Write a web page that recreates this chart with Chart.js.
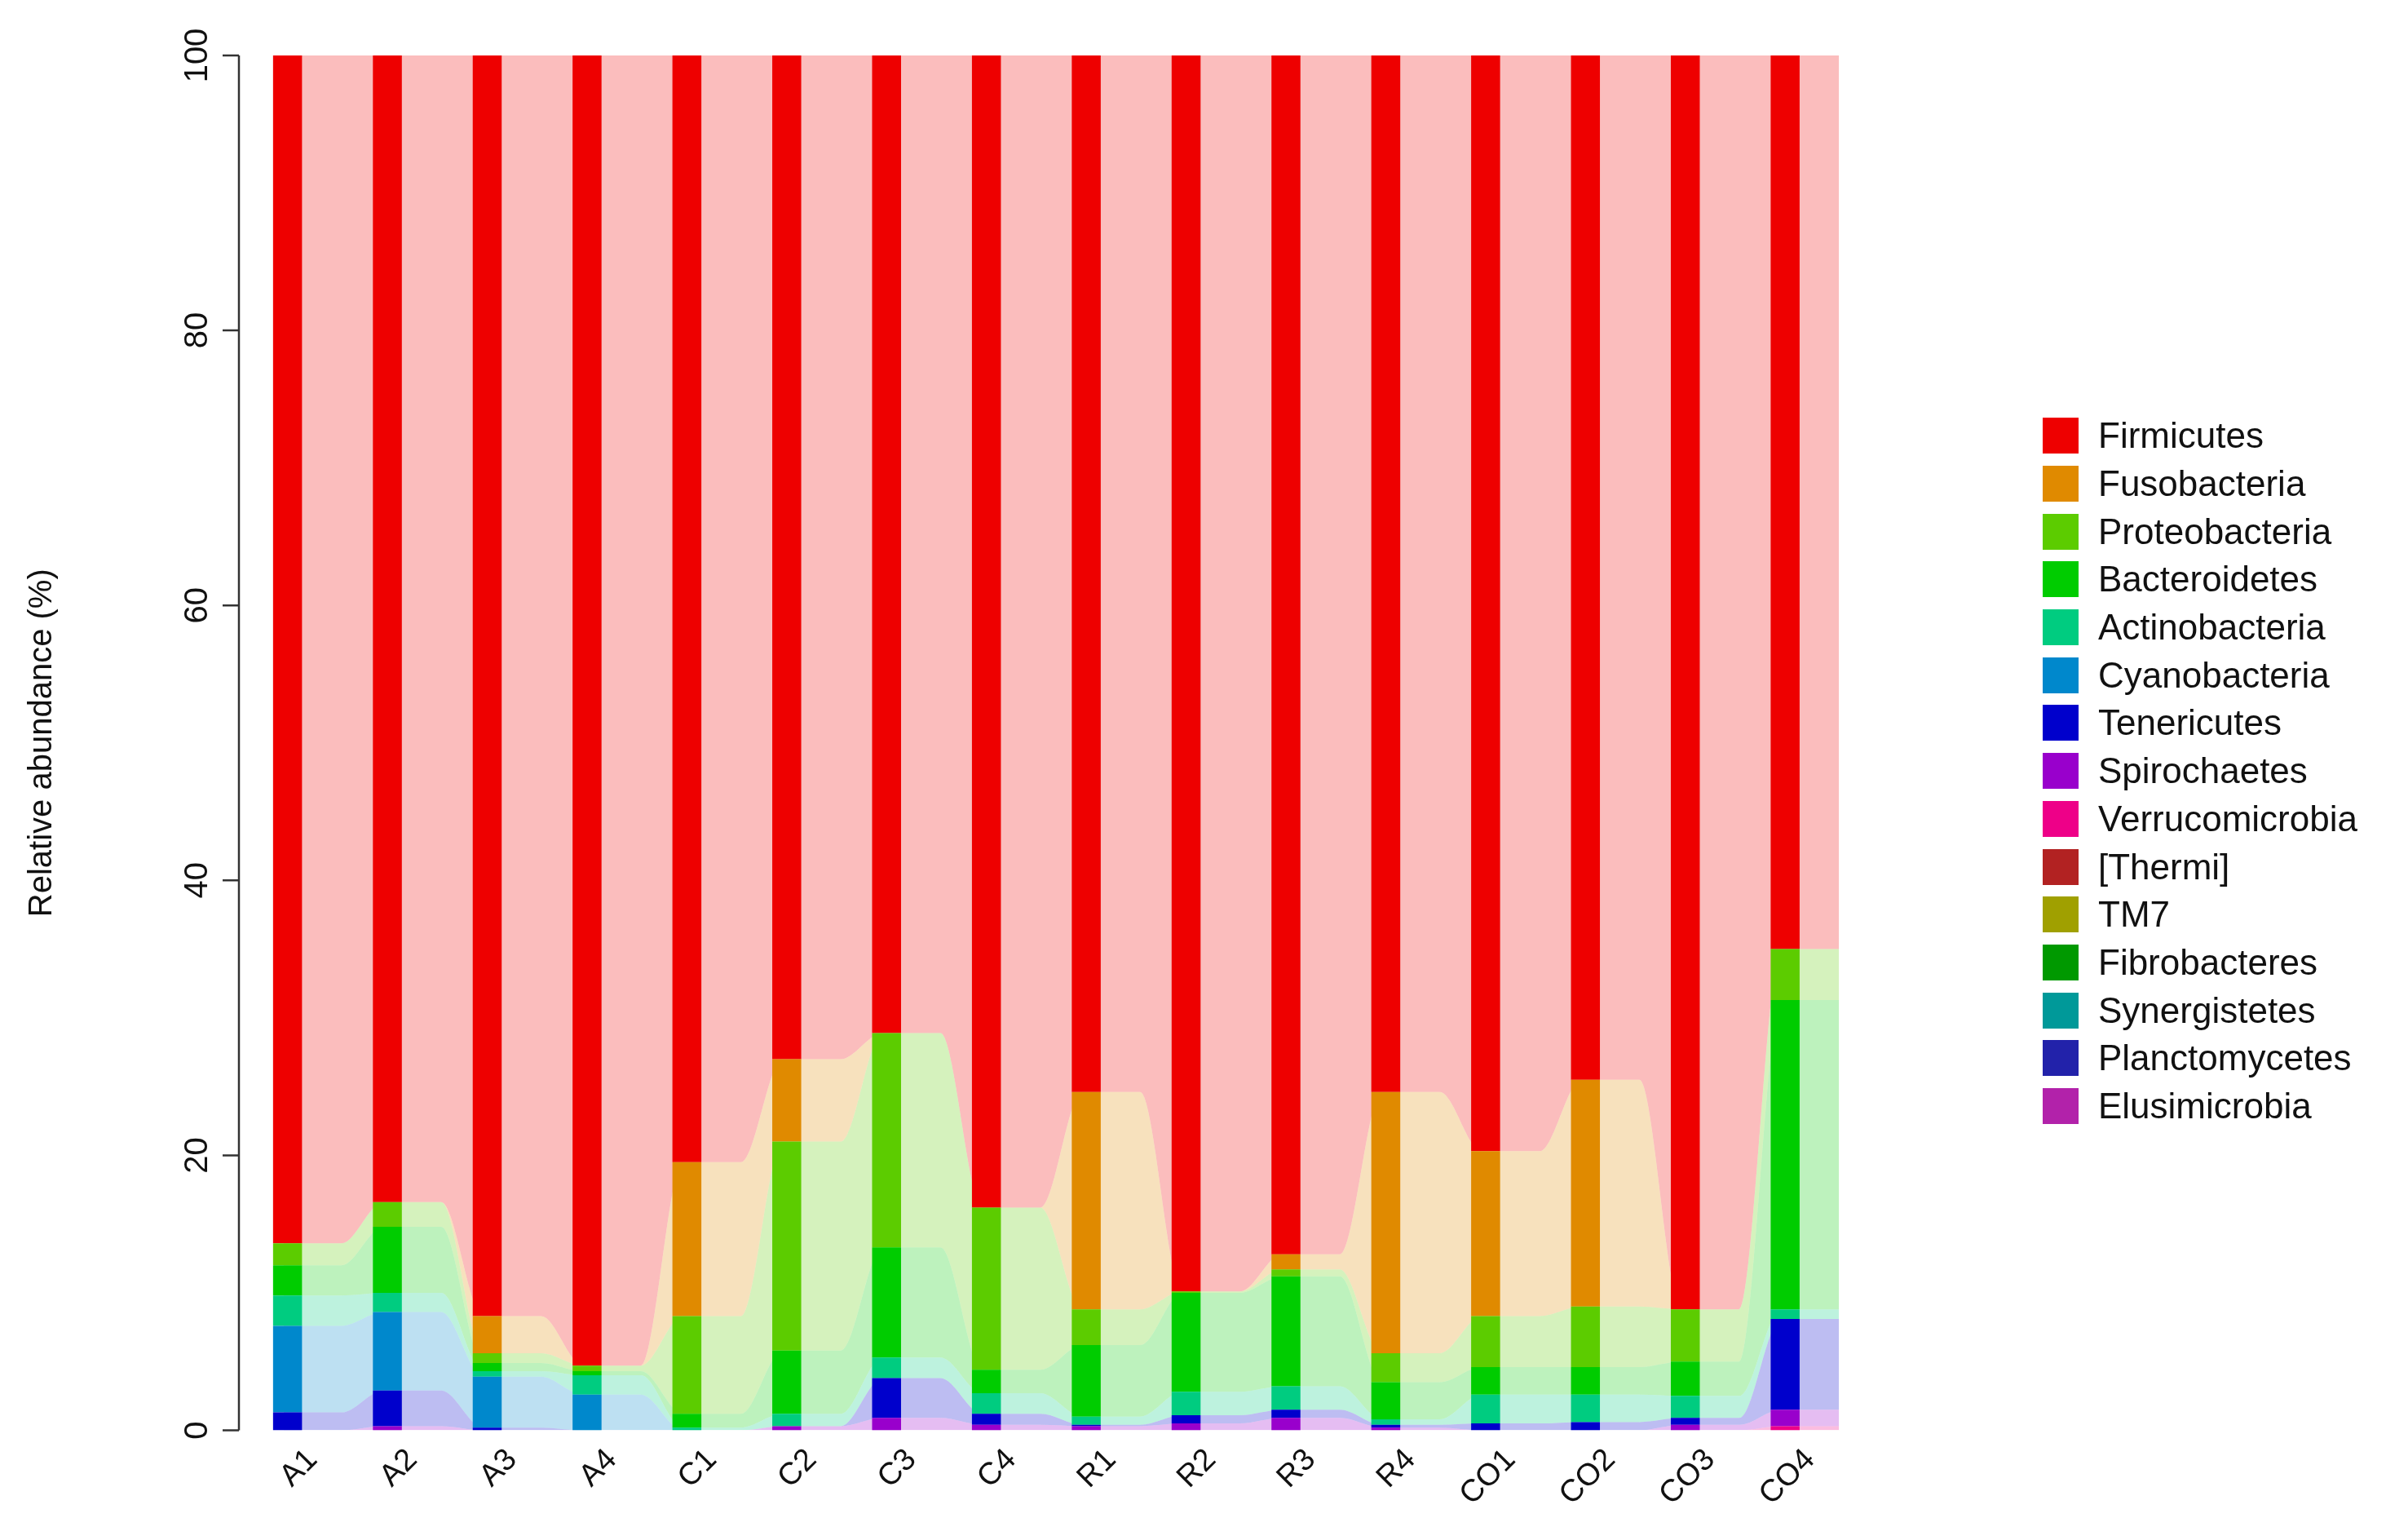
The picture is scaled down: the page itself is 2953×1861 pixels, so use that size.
<!DOCTYPE html>
<html>
<head>
<meta charset="utf-8">
<script src="https://cdn.jsdelivr.net/npm/chart.js@4"></script>
<style>
  body { margin: 0; background: #fff; }
  #wrap { position: relative; width: 2953px; height: 1861px; }
  #legend { position: absolute; left: 2505px; top: 505px; font-family: "Liberation Sans", Arial, sans-serif; font-size: 44px; color: #111; }
  #legend div { height: 58.7px; display: flex; align-items: center; }
  #legend span.sw { display: inline-block; width: 44px; height: 44px; margin-right: 24px; }
</style>
</head>
<body>
<div id="wrap">
  <canvas id="chart" width="2953" height="1861"></canvas>
  <div id="legend"></div>
</div>
<script>
const samples = ["A1","A2","A3","A4","C1","C2","C3","C4","R1","R2","R3","R4","CO1","CO2","CO3","CO4"];
const yTicks = [0, 20, 40, 60, 80, 100];

// legend order (top to bottom); stacking goes the other way
const phyla = ["Firmicutes","Fusobacteria","Proteobacteria","Bacteroidetes","Actinobacteria","Cyanobacteria",
  "Tenericutes","Spirochaetes","Verrucomicrobia","[Thermi]","TM7","Fibrobacteres","Synergistetes","Planctomycetes","Elusimicrobia"];
const colors = ["#ee0000","#e08a00","#5ccc00","#00cc00","#00cc80","#0088cc",
  "#0000cc","#9900cc","#ee0088","#b22222","#a0a000","#009900","#009999","#2222aa","#b222aa"];

const firmicutes      = [86.4,83.4,91.7,95.3,80.5,73.0,71.1,83.8,75.4,89.9,87.2,75.4,79.7,74.5,91.2,65.0];
const fusobacteria    = [0,0,2.7,0,11.2,6.0,0,0,15.8,0,1.1,19.0,12.0,16.5,0,0];
const proteobacteria  = [1.6,1.8,0.7,0.4,7.1,15.2,15.6,11.8,2.6,0.1,0.5,2.1,3.7,4.4,3.8,3.7];
const bacteroidetes   = [2.2,4.8,0.6,0.3,1.0,4.6,8.0,1.7,5.2,7.2,8.0,2.7,2.0,2.0,2.5,22.5];
const actinobacteria  = [2.2,1.4,0.4,1.4,0.2,0.9,1.5,1.5,0.6,1.7,1.7,0.4,2.1,2.0,1.6,0.7];
const cyanobacteria   = [6.3,5.7,3.7,2.6,0,0,0,0,0,0,0,0,0,0,0,0];
const tenericutes     = [1.3,2.6,0.2,0,0,0,2.9,0.8,0.1,0.6,0.6,0.2,0.5,0.6,0.5,6.6];
const spirochaetes    = [0,0.3,0,0,0,0.3,0.9,0.4,0.3,0.5,0.9,0.2,0,0,0.4,1.2];
const verrucomicrobia = [0,0,0,0,0,0,0,0,0,0,0,0,0,0,0,0.3];
const thermi          = [0,0,0,0,0,0,0,0,0,0,0,0,0,0,0,0];
const tm7             = [0,0,0,0,0,0,0,0,0,0,0,0,0,0,0,0];
const fibrobacteres   = [0,0,0,0,0,0,0,0,0,0,0,0,0,0,0,0];
const synergistetes   = [0,0,0,0,0,0,0,0,0,0,0,0,0,0,0,0];
const planctomycetes  = [0,0,0,0,0,0,0,0,0,0,0,0,0,0,0,0];
const elusimicrobia   = [0,0,0,0,0,0,0,0,0,0,0,0,0,0,0,0];

const values = [firmicutes,fusobacteria,proteobacteria,bacteroidetes,actinobacteria,cyanobacteria,
  tenericutes,spirochaetes,verrucomicrobia,thermi,tm7,fibrobacteres,synergistetes,planctomycetes,elusimicrobia];

const HALF = 0.29; // half bar width in category units

function light(hex) {
  const r = parseInt(hex.slice(1,3),16), g = parseInt(hex.slice(3,5),16), b = parseInt(hex.slice(5,7),16);
  return `rgba(${r},${g},${b},0.26)`;
}

// bottom-up stacking order
const order = phyla.map((_, i) => i).reverse();

const barSets = order.map(i => ({
  type: "bar", label: phyla[i], data: values[i], backgroundColor: colors[i],
  stack: "bars", xAxisID: "x", barPercentage: HALF * 2, categoryPercentage: 1, borderWidth: 0
}));

const flowSets = order.map((i, k) => ({
  type: "line", label: phyla[i] + " flow",
  data: values[i].flatMap((v, j) => [{ x: j - HALF, y: v }, { x: j + HALF, y: v }]),
  xAxisID: "xf", stack: "flow", borderWidth: 0, pointRadius: 0,
  backgroundColor: light(colors[i]), fill: k === 0 ? "origin" : "-1",
  cubicInterpolationMode: "monotone"
}));

// y tick labels rotated like R's plot, axis title
const yAxisPlugin = {
  id: "yAxisPlugin",
  afterDraw(chart) {
    const ctx = chart.ctx, y = chart.scales.y;
    const ax = 293;
    ctx.save();
    ctx.strokeStyle = "#333"; ctx.lineWidth = 2.5;
    ctx.beginPath();
    ctx.moveTo(ax, y.getPixelForValue(0)); ctx.lineTo(ax, y.getPixelForValue(100));
    yTicks.forEach(t => {
      const p = y.getPixelForValue(t);
      ctx.moveTo(ax, p); ctx.lineTo(ax - 20, p);
    });
    ctx.stroke();
    ctx.fillStyle = "#111";
    ctx.font = "40px 'Liberation Sans', Arial, sans-serif";
    ctx.textAlign = "center"; ctx.textBaseline = "bottom";
    yTicks.forEach(t => {
      ctx.save();
      ctx.translate(ax - 30, y.getPixelForValue(t));
      ctx.rotate(-Math.PI / 2);
      ctx.fillText(String(t), 0, 0);
      ctx.restore();
    });
    ctx.save();
    ctx.translate(72, (y.top + y.bottom) / 2);
    ctx.rotate(-Math.PI / 2);
    ctx.font = "40px 'Liberation Sans', Arial, sans-serif";
    ctx.fillText("Relative abundance (%)", 0, 0);
    ctx.restore();
    ctx.restore();
  }
};

new Chart(document.getElementById("chart"), {
  data: { labels: samples, datasets: [...barSets, ...flowSets] },
  options: {
    responsive: false,
    animation: false,
    layout: { padding: { left: 322, right: 672, top: 68, bottom: 0 } },
    plugins: { legend: { display: false }, tooltip: { enabled: false } },
    scales: {
      x: {
        type: "category", offset: true, stacked: true,
        grid: { display: false, drawTicks: true }, border: { display: false },
        ticks: { color: "#111", font: { size: 38, family: "'Liberation Sans', Arial, sans-serif" }, minRotation: 45, maxRotation: 45, padding: 6 }
      },
      xf: { type: "linear", min: -0.5, max: 15.5, display: false },
      y: {
        min: 0, max: 100, stacked: true,
        grid: { display: false }, border: { display: false },
        ticks: { display: false }, afterFit(s) { s.width = 0; }
      }
    }
  },
  plugins: [yAxisPlugin]
});

const legendEl = document.getElementById("legend");
phyla.forEach((p, i) => {
  const row = document.createElement("div");
  row.innerHTML = `<span class="sw" style="background:${colors[i]}"></span>${p}`;
  legendEl.appendChild(row);
});
</script>
</body>
</html>
